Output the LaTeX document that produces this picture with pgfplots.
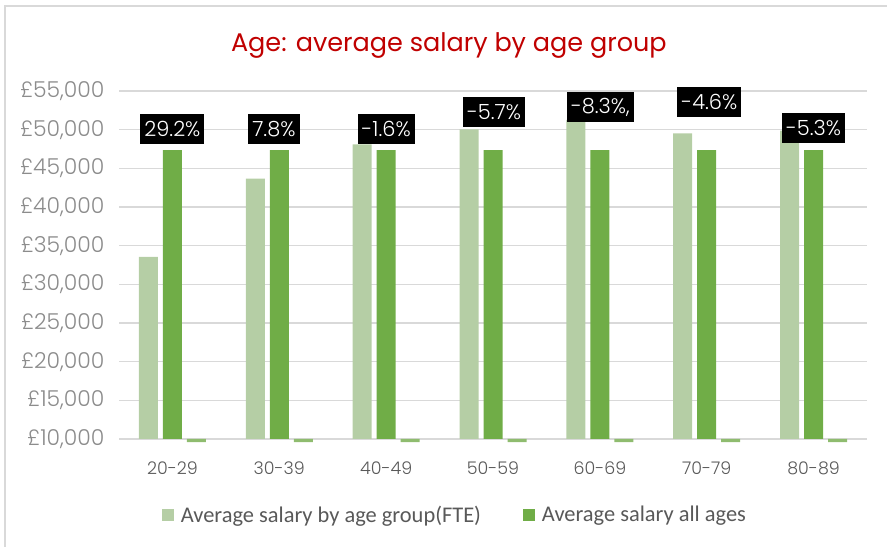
\documentclass[border=0pt]{standalone}
\usepackage{pgfplots}
\usepackage{pgfplotstable}
\pgfplotsset{compat=1.18}
\usepackage{fontspec}
\setmainfont{Carlito}
\newfontfamily\futura{Poppins}[UprightFont=* Light]
\newfontfamily\futtitle{Poppins}
\definecolor{lightg}{RGB}{181,206,165}
\definecolor{darkg}{RGB}{112,173,71}
\definecolor{midg}{RGB}{143,188,111}
\definecolor{gridc}{RGB}{217,217,217}
\definecolor{titlered}{RGB}{192,0,0}
\definecolor{txtgray}{RGB}{89,89,89}
\definecolor{tickgray}{RGB}{140,140,140}

\pgfplotstableread{
x fte all pct
0 33560 47350 9600
1 43657 47350 9600
2 48108 47350 9600
3 50049 47350 9600
4 51280 47350 9600
5 49528 47350 9600
6 49860 47350 9600
}\salary

\pgfplotstableread{
x y lbl
0     50116 29.2\%
0.95  50116 7.8\%
2     50116 -1.6\%
3.01  52290 -5.7\%
4.005 52890 -8.3\%,
5.025 53600 -4.6\%
6     50270 -5.3\%
}\labels

\begin{document}
\begin{tikzpicture}
\useasboundingbox (0,0) rectangle (887bp,547bp);
\draw[gridc, line width=2.5bp] (5bp,0) -- (5bp,541bp) -- (887bp,541bp);
\begin{axis}[
  at={(119bp,108bp)}, anchor=south west,
  scale only axis, width=748bp, height=348bp,
  xmin=-0.5, xmax=6.5, ymin=0, ymax=45000,
  clip=false,
  axis line style={draw=none},
  major tick length=0pt,
  scaled y ticks=false,
  xtick={0,...,6},
  xticklabels={20-29,30-39,40-49,50-59,60-69,70-79,80-89},
  ytick={0,5000,...,45000},
  yticklabels={{\pounds10,000},{\pounds15,000},{\pounds20,000},{\pounds25,000},{\pounds30,000},{\pounds35,000},{\pounds40,000},{\pounds45,000},{\pounds50,000},{\pounds55,000}},
  ymajorgrids, grid style={gridc, line width=1.5bp},
  yticklabel style={font=\futura\fontsize{22}{24}\selectfont, text=tickgray, xshift=-11bp},
  xticklabel style={font=\futura\fontsize{17.5}{20}\selectfont, text=txtgray, yshift=-19bp},
  title={\futtitle\fontsize{25.6}{28}\selectfont Age: average salary by age group},
  title style={at={(axis description cs:0.441,1.095)}, anchor=base, text=titlered},
  legend columns=2,
  legend style={at={(axis description cs:0.449,-0.218)}, anchor=center, draw=none,
    font=\fontsize{22.5}{24}\selectfont, text=txtgray,
    /tikz/every odd column/.append style={column sep=5bp},
    /tikz/every even column/.append style={column sep=40bp}},
  legend image code/.code={\fill[#1] (0bp,-6bp) rectangle (12bp,6bp);},
]
\addplot[ybar, bar width=19bp, bar shift=-24bp, fill=lightg, draw=none] table[x=x, y expr=\thisrow{fte}-10000] {\salary};
\addlegendentry{Average salary by age group(FTE)}
\addplot[ybar, bar width=19bp, bar shift=0bp, fill=darkg, draw=none] table[x=x, y expr=\thisrow{all}-10000] {\salary};
\addlegendentry{Average salary all ages}
\addplot[ybar, bar width=19bp, bar shift=24bp, fill=midg, draw=none, forget plot] table[x=x, y expr=\thisrow{pct}-10000] {\salary};
\addplot[draw=none, mark=none, forget plot, point meta=explicit symbolic,
  nodes near coords,
  nodes near coords style={anchor=center, fill=black, text=white,
    font=\futura\fontsize{21}{23}\selectfont, inner xsep=4bp, minimum height=30bp}]
  table[x=x, y expr=\thisrow{y}-10000, meta=lbl] {\labels};
\end{axis}
\end{tikzpicture}
\end{document}
